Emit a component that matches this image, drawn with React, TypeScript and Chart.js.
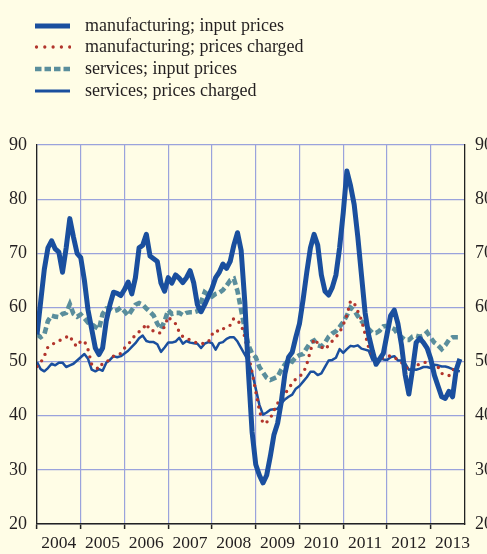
import React, { useEffect, useRef } from "react";
import { Chart, registerables } from "chart.js";

Chart.register(...registerables);

const YEARS = ["2004", "2005", "2006", "2007", "2008", "2009", "2010", "2011", "2012", "2013"];
const X_TICKS = [0, 6, 12, 18, 24, 30, 36, 42, 48, 54, 60, 66, 72, 78, 84, 90, 96, 102, 108, 114];
const Y_TICKS = [20, 30, 40, 50, 60, 70, 80, 90];

const SERIES_NAMES = [
  "manufacturing; input prices",
  "manufacturing; prices charged",
  "services; input prices",
  "services; prices charged",
];

// Monthly values, Jan 2004 .. Sep 2013
const MFG_INPUT = [
  55, 61, 67, 71, 72.3, 70.8, 70.2, 66.5, 71, 76.4, 73, 70,
  69.2, 65, 59.5, 56, 52.5, 51.3, 52.5, 57.5, 60.5, 62.8, 62.6, 62.2,
  63.3, 64.7, 62.5, 65.5, 71, 71.5, 73.5, 69.5, 69, 68.5, 64.5, 63,
  65.5, 64.5, 66, 65.4, 64.6, 65.5, 66.8, 64.5, 60.5, 59.2, 60.5, 62,
  63.5, 65.5, 66.5, 68, 67.2, 68.5, 71.5, 73.8, 70.5, 61, 48, 37,
  31, 29, 27.6, 29, 32.5, 36.5, 38.6, 42.5, 47.7, 50.8, 51.7, 54.5,
  57, 61.5, 66.5, 71, 73.5, 71.5, 66, 63, 62.3, 63.7, 66, 71,
  77.5, 85.2, 82.5, 79, 73, 66, 59, 54.8, 52, 49.5, 50.5, 51.5,
  55, 58.5, 59.5, 57, 53, 47.5, 44, 48.5, 53.5, 54.3, 53.5, 52.5,
  50.5, 47.5, 45.5, 43.5, 43.2, 44.5, 43.5, 48.5, 50.5,
];

const MFG_CHARGED = [
  49.1, 49.8, 51, 52.7, 53.1, 53.5, 53.8, 54.2, 54.5, 54.8, 53.4, 52.8,
  53.8, 53.8, 52.2, 49.5, 49, 48.6, 49.7, 50, 50.3, 51, 51.3, 51.5,
  52.5, 53.2, 54, 55, 55.5, 56, 57, 55.7, 55.7, 55.3, 55.3, 56.5,
  58.3, 57.5, 57, 55.5, 54.6, 54.3, 54, 53.7, 53.4, 53.3, 53.4, 53.6,
  55, 55.8, 55.5, 56, 56.5, 56.7, 58, 57.5, 56.9, 54.5, 51.2, 48,
  44.5, 41, 38.5, 38.8, 39.5, 41, 42.3, 42.9, 44, 45, 46, 46.8,
  47.3, 47.8, 49.5, 52, 54.2, 53.4, 52.7, 52.2, 53, 53.8, 54.5, 55.4,
  56.8, 58.5, 61.2, 60.8, 59.3, 57.7, 55.1, 52.5, 51.2, 50.4, 50.5, 50.7,
  50.9, 51.1, 50.8, 50.3, 49.8, 49.2, 48.3, 48.7, 49.2, 49.6, 49.8, 49.9,
  49.6, 49.3, 49, 47.8, 47.6, 47.4, 48.3, 49.2, 50,
];

const SERV_INPUT = [
  55, 54.5, 55, 57.5, 58.5, 58.3, 58.2, 58.8, 59, 60.6, 58.8, 58.3,
  58.7, 58, 57.2, 56.9, 56.4, 56, 58.8, 59.8, 59.8, 59.3, 59.5, 60,
  59.3, 58.5, 59.5, 60.5, 60.8, 60.5, 59.8, 59.2, 58.5, 57, 56, 57.5,
  59.5, 58.8, 59, 59, 58.6, 59, 59.1, 59.1, 59.3, 61, 62.8, 62.3,
  62, 62.5, 62.7, 63.2, 64, 65, 65.3, 63, 59.5, 56, 53, 51.5,
  50.8, 49, 48, 47, 46.6, 46.9, 47.2, 48.5, 49.5, 50.3, 50, 50.8,
  51.2, 51.4, 52.5, 53.5, 53.9, 53, 52.8, 53.5, 54.6, 55.2, 55.6, 56.4,
  57.3, 58.5, 60, 59.5, 58.4, 57.5, 56.7, 56, 55.3, 55.3, 55.7, 56.5,
  56.6, 56.3, 56, 55, 54.5, 54, 54, 54.6, 54.8, 54.6, 54.8, 55.4,
  54.4, 53.5, 53, 52.3, 53, 54, 54.5, 54.5, 54.5,
];

const SERV_CHARGED = [
  49.9, 48.6, 48.2, 48.8, 49.6, 49.3, 49.8, 49.8, 49, 49.3, 49.6, 50.2,
  50.8, 51.4, 50.5, 48.5, 48.2, 48.6, 48.3, 49.8, 50.3, 51, 50.8, 51,
  51.5, 52, 52.7, 53.4, 54.3, 54.8, 53.8, 53.6, 53.6, 53.2, 51.8, 52.6,
  53.5, 53.5, 53.7, 54.4, 53.3, 53.8, 53.5, 53.4, 53.3, 52.5, 53.3, 53.6,
  53.4, 52.2, 53.4, 53.6, 54.2, 54.5, 54.5, 53.7, 52.5, 51.3, 50, 48,
  45, 42, 40.2, 40.6, 41.1, 41.2, 41.3, 42.3, 43, 43.5, 43.9, 45,
  45.5, 46.3, 47.1, 48.1, 48.1, 47.5, 47.8, 49, 50.2, 50.3, 50.7, 52.3,
  51.6, 52.3, 52.9, 52.8, 53, 52.4, 52.2, 52, 50.3, 50.3, 50.6, 50.4,
  50.3, 50.8, 51, 50.2, 50.2, 49.6, 48.5, 48.6, 48.5, 48.7, 49, 49,
  48.8, 49.4, 49.3, 49.1, 49.1, 48.9, 48.6, 48.3, 48.2,
];

const BG = "#FFFDE6";
const GRID = "#9AA3DC";
const AXIS = "#222222";
const TEXT = "#231F20";
const BLUE = "#1A4F9E";
const RED = "#B2352C";
const TEAL = "#5A8E9C";
const FONT = "'Liberation Serif', 'Times New Roman', serif";

const toXY = (arr: number[]) => arr.map((v, i) => ({ x: i, y: v }));

const LEGEND = [
  { name: SERIES_NAMES[0], color: BLUE, width: 5, dash: "", cap: "butt" },
  { name: SERIES_NAMES[1], color: RED, width: 3.3, dash: "0 8.3", cap: "round" },
  { name: SERIES_NAMES[2], color: TEAL, width: 4.6, dash: "6.5 3", cap: "butt" },
  { name: SERIES_NAMES[3], color: BLUE, width: 3.2, dash: "", cap: "butt" },
];

export default function App() {
  const ref = useRef<HTMLCanvasElement | null>(null);

  useEffect(() => {
    document.body.style.margin = "0";
    document.body.style.background = BG;
    const canvas = ref.current;
    if (!canvas) return;
    const tickFontY = { family: FONT, size: 18 };
    const tickFontX = { family: FONT, size: 17.5 };
    const chart = new Chart(canvas, {
      type: "line",
      data: {
        datasets: [
          {
            label: SERIES_NAMES[0],
            data: toXY(MFG_INPUT),
            borderColor: BLUE,
            borderWidth: 5,
            pointRadius: 0,
            tension: 0,
            borderJoinStyle: "round",
          },
          {
            label: SERIES_NAMES[1],
            data: toXY(MFG_CHARGED),
            borderColor: RED,
            borderWidth: 3.4,
            borderDash: [0, 7.3],
            borderCapStyle: "round",
            pointRadius: 0,
            tension: 0,
          },
          {
            label: SERIES_NAMES[2],
            data: toXY(SERV_INPUT),
            borderColor: TEAL,
            borderWidth: 4.6,
            borderDash: [6.5, 3.5],
            pointRadius: 0,
            tension: 0,
          },
          {
            label: SERIES_NAMES[3],
            data: toXY(SERV_CHARGED),
            borderColor: BLUE,
            borderWidth: 2.5,
            pointRadius: 0,
            tension: 0,
            borderJoinStyle: "round",
          },
        ],
      },
      options: {
        animation: false,
        responsive: false,
        maintainAspectRatio: false,
        layout: { padding: { left: 6, right: 4, top: 145, bottom: 0 } },
        plugins: { legend: { display: false }, tooltip: { enabled: false } },
        scales: {
          x: {
            type: "linear",
            min: 0,
            max: 117.4,
            afterBuildTicks: (axis: any) => {
              axis.ticks = X_TICKS.map((v) => ({ value: v }));
            },
            ticks: {
              autoSkip: false,
              maxRotation: 0,
              minRotation: 0,
              padding: 4,
              color: TEXT,
              font: tickFontX,
              callback: (v: any) => (Number(v) % 12 === 6 ? YEARS[(Number(v) - 6) / 12] : ""),
            },
            grid: {
              color: (ctx: any) => (ctx.tick && ctx.tick.value % 12 === 0 ? GRID : "rgba(0,0,0,0)"),
              tickColor: (ctx: any) => (ctx.tick && ctx.tick.value % 12 === 0 ? AXIS : "rgba(0,0,0,0)"),
              tickLength: 5,
              tickWidth: 1.5,
              lineWidth: 1.2,
            },
            border: { color: AXIS, width: 1.5 },
          },
          y: {
            position: "left",
            min: 20,
            max: 90,
            afterBuildTicks: (axis: any) => {
              axis.ticks = Y_TICKS.map((v) => ({ value: v }));
            },
            ticks: { padding: 3, color: TEXT, font: tickFontY },
            grid: { color: GRID, lineWidth: 1.2, tickLength: 7, tickColor: "rgba(0,0,0,0)" },
            border: { color: AXIS, width: 1.3 },
          },
          y1: {
            position: "right",
            min: 20,
            max: 90,
            afterBuildTicks: (axis: any) => {
              axis.ticks = Y_TICKS.map((v) => ({ value: v }));
            },
            ticks: { padding: 3, color: TEXT, font: tickFontY },
            grid: { drawOnChartArea: false, tickLength: 7, tickColor: "rgba(0,0,0,0)" },
            border: { color: AXIS, width: 1.3 },
          },
        },
      },
    } as any);
    return () => chart.destroy();
  }, []);

  return (
    <div
      style={{
        position: "fixed",
        left: 0,
        top: 0,
        width: 487,
        height: 554,
        overflow: "hidden",
        background: BG,
      }}
    >
      <canvas ref={ref} width={500} height={558} style={{ position: "absolute", left: 0, top: 0, display: "block" }} />
      {LEGEND.map((it, i) => {
        const top = 14.5 + i * 21.7;
        return (
          <div key={i} style={{ position: "absolute", left: 0, top, height: 22, width: 487 }}>
            <svg width={37} height={10} style={{ position: "absolute", left: 34, top: 6 }}>
              <line
                x1={it.cap === "round" ? 2.5 : 1}
                y1={5}
                x2={36}
                y2={5}
                stroke={it.color}
                strokeWidth={it.width}
                strokeDasharray={it.dash || undefined}
                strokeLinecap={it.cap as any}
              />
            </svg>
            <span
              style={{
                position: "absolute",
                left: 85,
                top: 0,
                fontFamily: FONT,
                fontSize: 18,
                lineHeight: "20px",
                color: TEXT,
                whiteSpace: "nowrap",
              }}
            >
              {it.name}
            </span>
          </div>
        );
      })}
    </div>
  );
}
